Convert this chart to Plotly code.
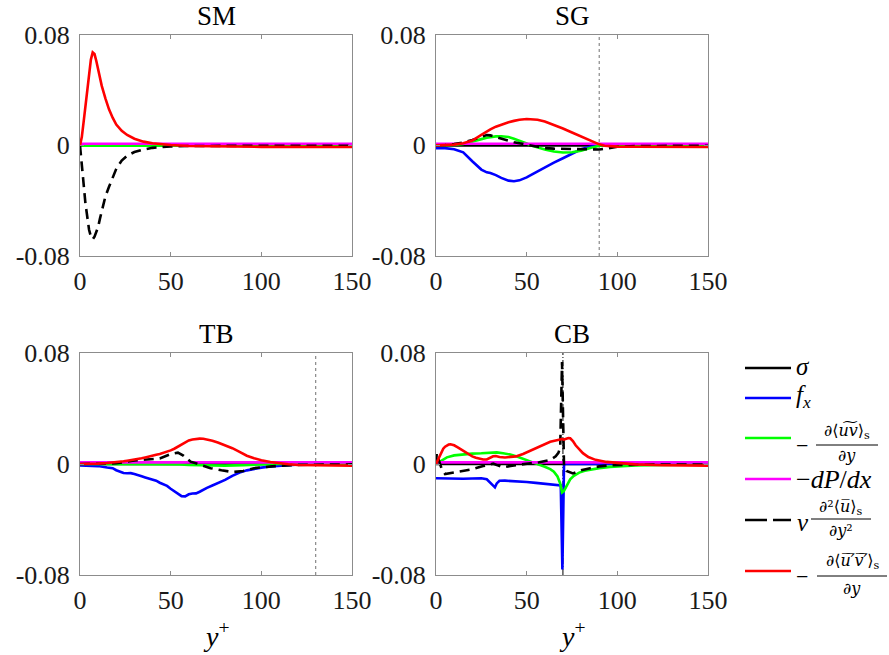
import plotly.graph_objects as go

W, H = 889, 655

# ---------------- data ----------------
panel_titles = ["SM", "SG", "TB", "CB"]
x_ticks = [0, 50, 100, 150]
y_ticks = [-0.08, 0, 0.08]
y_tick_labels = ["-0.08", "0", "0.08"]

dpdx_x = [0, 150]
dpdx_val = [0.0012, 0.0012]
sigma_x = [0, 150]
sigma_val = [0, 0]

# SM
sm_x = [0, 1, 2, 3, 4, 5, 6, 7, 8, 9, 10, 11, 12, 14, 16, 18, 20, 23, 26, 30, 35, 40, 45, 50, 60, 80, 100, 150]
sm_red = [0, 0.006, 0.017, 0.029, 0.041, 0.053, 0.062, 0.0672, 0.066, 0.061, 0.055, 0.049, 0.043, 0.034,
          0.026, 0.020, 0.015, 0.0105, 0.0075, 0.0048, 0.0027, 0.0015, 0.0007, 0.0002, -0.0005, -0.0009,
          -0.0011, -0.0012]
sm_dash = [0, -0.012, -0.028, -0.042, -0.053, -0.061, -0.066, -0.068, -0.066, -0.063, -0.059, -0.053,
           -0.047, -0.037, -0.030, -0.023, -0.017, -0.011, -0.0075, -0.0048, -0.003, -0.0018, -0.0012,
           -0.0008, -0.0005, -0.0003, -0.0003, -0.0003]
sm_fx_x = [0, 150]
sm_fx = [0, 0]
sm_green_x = [0, 150]
sm_green = [-0.0003, -0.0003]

# SG
sg_x = [0, 5, 10, 15, 20, 25, 28, 30, 33, 36, 40, 43, 46, 50, 53, 56, 60, 65, 70, 75, 80, 85, 88, 90,
        93, 96, 100, 110, 125, 150]
sg_red = [0, 0, 0.0005, 0.0015, 0.0035, 0.0075, 0.010, 0.0115, 0.0135, 0.015, 0.0167, 0.0177, 0.0185,
          0.019, 0.019, 0.0185, 0.0172, 0.0148, 0.0122, 0.0093, 0.0065, 0.0035, 0.0017, 0.0007, -0.0003,
          -0.0007, -0.0009, -0.001, -0.0011, -0.0012]
sg_fx = [-0.002, -0.002, -0.0028, -0.005, -0.0115, -0.0175, -0.0195, -0.020, -0.0215, -0.0235, -0.0255,
         -0.026, -0.0253, -0.0232, -0.021, -0.0188, -0.016, -0.0125, -0.0093, -0.0058, -0.0028, -0.001,
         -0.0004, 0, 0, 0, 0, 0, 0, 0]
sg_green = [0, 0, 0.0003, 0.001, 0.0025, 0.0045, 0.0055, 0.006, 0.0065, 0.0066, 0.006, 0.0048, 0.0035,
            0.0013, -0.0003, -0.0015, -0.003, -0.0045, -0.0052, -0.005, -0.0038, -0.002, -0.0009, -0.0003,
            0, 0, 0, 0, 0, 0]
sg_dash = [0, 0.0002, 0.001, 0.002, 0.0038, 0.0062, 0.0075, 0.0072, 0.006, 0.0045, 0.003, 0.0022, 0.0015,
           0.0005, -0.0006, -0.0014, -0.002, -0.0024, -0.0025, -0.0025, -0.0025, -0.0027, -0.003, -0.003,
           -0.0025, -0.0018, -0.001, -0.0005, -0.0004, -0.0003]
sg_ref_x = 90

# TB
tb_x = [0, 5, 10, 15, 18, 20, 22, 24, 26, 28, 30, 32, 34, 36, 38, 40, 42, 44, 46, 48, 50, 52, 54, 56, 58,
        60, 62, 64, 66, 68, 70, 73, 76, 80, 84, 88, 92, 96, 100, 105, 110, 115, 120, 125, 130, 140, 150]
tb_fx = [-0.001, -0.0012, -0.0015, -0.0025, -0.003, -0.0045, -0.0055, -0.0065, -0.0067, -0.0066, -0.0072,
         -0.0078, -0.0089, -0.0097, -0.0105, -0.0112, -0.0120, -0.0135, -0.0145, -0.0158, -0.0178, -0.0195,
         -0.0215, -0.0232, -0.0233, -0.0218, -0.0213, -0.0212, -0.0200, -0.0185, -0.0172, -0.0155, -0.0137,
         -0.0115, -0.0085, -0.0062, -0.0046, -0.0035, -0.0026, -0.0018, -0.0013, -0.0008, -0.0002, 0, 0, 0, 0]
tb_red = [0, 0, 0.0003, 0.0007, 0.001, 0.0013, 0.0016, 0.002, 0.0024, 0.0027, 0.0031, 0.0036, 0.0041,
          0.0047, 0.0055, 0.006, 0.0066, 0.0072, 0.008, 0.0088, 0.0098, 0.011, 0.0124, 0.0142, 0.0158,
          0.017, 0.0177, 0.0181, 0.0183, 0.0182, 0.0178, 0.0168, 0.0155, 0.0137, 0.0114, 0.0087, 0.006,
          0.0042, 0.0027, 0.0014, 0.0005, -0.0002, -0.0007, -0.0009, -0.001, -0.0011, -0.0012]
tb_dash_x = [0, 10, 20, 29, 35, 40, 44, 50, 54, 57, 61, 65, 72, 78, 84, 90, 96, 106, 118, 130, 150]
tb_dash = [0, 0, 0.0005, 0.0024, 0.003, 0.0034, 0.004, 0.0072, 0.0082, 0.006, 0.0017, 0, -0.003, -0.0045,
           -0.0058, -0.005, -0.003, -0.0017, -0.0007, -0.0005, -0.0003]
tb_green_x = [0, 50, 55, 60, 70, 80, 90, 100, 110, 150]
tb_green = [0, 0, -0.0003, -0.0007, -0.001, -0.0012, -0.0008, -0.0004, 0, 0]
tb_ref_x = 130

# CB
cb_fx_x = [0, 3, 6, 10, 15, 20, 25, 28, 30, 31.5, 32.5, 33.5, 35, 38, 42, 46, 50, 55, 60, 64, 67, 68.8,
           69.7, 70.6, 75, 100, 150]
cb_fx = [-0.0103, -0.0104, -0.0105, -0.0106, -0.0106, -0.0104, -0.0103, -0.011, -0.0135, -0.0155, -0.0168,
         -0.014, -0.0121, -0.012, -0.0122, -0.0126, -0.013, -0.0136, -0.0142, -0.0147, -0.015, -0.0155,
         -0.076, 0, 0, 0, 0]
cb_red_x = [0, 1, 2, 3, 4, 5, 6, 7, 8, 9, 10, 12, 14, 16, 18, 20, 22, 24, 26, 28, 30, 31.5, 33, 35, 38, 41,
            44, 48, 52, 56, 60, 63, 66, 68, 69.5, 70.5, 72, 73, 74, 75.5, 77, 79, 81, 84, 88, 94, 100, 110,
            125, 150]
cb_red = [0, 0.003, 0.006, 0.009, 0.011, 0.0125, 0.0135, 0.014, 0.0142, 0.014, 0.0135, 0.012, 0.0103,
          0.0085, 0.007, 0.0055, 0.0045, 0.0037, 0.0032, 0.0033, 0.0045, 0.0056, 0.0058, 0.005, 0.0047,
          0.0049, 0.0055, 0.0072, 0.0095, 0.012, 0.0145, 0.016, 0.017, 0.0175, 0.018, 0.0176, 0.0183,
          0.0187, 0.0185, 0.0165, 0.0135, 0.0105, 0.0078, 0.005, 0.003, 0.0015, 0.0007, -0.0003, -0.0009,
          -0.0012]
cb_green_x = [0, 3, 6, 10, 15, 20, 25, 30, 33.5, 37, 41, 45, 50, 54, 57.4, 60, 63, 65, 67, 68.5, 69.5,
              70.5, 72, 74, 76, 79, 82, 86, 90, 96, 102, 110, 125, 150]
cb_green = [0, 0.0025, 0.0048, 0.0062, 0.007, 0.0075, 0.0077, 0.0081, 0.0084, 0.0077, 0.0068, 0.0052,
            0.003, 0.0008, -0.0008, -0.002, -0.0037, -0.0055, -0.009, -0.014, -0.0205, -0.0195, -0.0155,
            -0.011, -0.0085, -0.0062, -0.0048, -0.0038, -0.003, -0.0021, -0.0015, -0.001, -0.0006, -0.0004]
cb_dash_x = [0, 0.4, 1.5, 3, 5, 8, 13, 19, 26, 31.6, 34, 37, 42, 47, 52, 57, 60, 63, 66, 67.5, 68.5, 69.5,
             70.6, 72, 75.5, 80, 85, 90, 97, 105, 120, 150]
cb_dash = [0, 0.0077, 0.003, -0.003, -0.0072, -0.0065, -0.0055, -0.004, -0.0015, 0.0002, -0.001, -0.0024,
           -0.0012, -0.0002, 0.0005, 0.0012, 0.002, 0.003, 0.0055, 0.008, 0.012, 0.0735, -0.002, -0.005,
           -0.0068, -0.0045, -0.003, -0.0017, -0.0008, -0.0005, -0.0004, -0.0003]
cb_ref_x = 70

# ---------------- style ----------------
C_SIGMA = "#000000"
C_FX = "#0000ff"
C_GREEN = "#00ff00"
C_DPDX = "#ff00ff"
C_DASH = "#000000"
C_RED = "#ff0000"
LW = 2.6
DASH = "10px,6px"
FONT = "Liberation Serif"
MF = "DejaVu Serif"
FRAME = "#8c8c8c"

fig = go.Figure()

def px2x(px):
    return px / W

def py2y(py):
    return 1 - py / H

# axes domains (pixel based)
cols = [(80, 352), (436, 708)]
rows = [(34.7, 256), (353, 575)]

panels = [
    dict(name=panel_titles[0], col=0, row=0,
         fx=(sm_fx_x, sm_fx), green=(sm_green_x, sm_green), dash=(sm_x, sm_dash), red=(sm_x, sm_red),
         ref=None),
    dict(name=panel_titles[1], col=1, row=0,
         fx=(sg_x, sg_fx), green=(sg_x, sg_green), dash=(sg_x, sg_dash), red=(sg_x, sg_red),
         ref=(sg_ref_x, "#707070", "3px,3px")),
    dict(name=panel_titles[2], col=0, row=1,
         fx=(tb_x, tb_fx), green=(tb_green_x, tb_green), dash=(tb_dash_x, tb_dash), red=(tb_x, tb_red),
         ref=(tb_ref_x, "#707070", "3px,3px")),
    dict(name=panel_titles[3], col=1, row=1,
         fx=(cb_fx_x, cb_fx), green=(cb_green_x, cb_green), dash=(cb_dash_x, cb_dash),
         red=(cb_red_x, cb_red), ref=(cb_ref_x, "#000000", "6px,2px,1px,2px")),
]

layout = dict(
    width=W, height=H, margin=dict(l=0, r=0, t=0, b=0, pad=0),
    paper_bgcolor="white", plot_bgcolor="white", showlegend=False,
    font=dict(family=FONT, size=26, color="#262626"),
)

annotations = []
shapes = []

for i, p in enumerate(panels):
    k = "" if i == 0 else str(i + 1)
    xa, ya = "x" + k, "y" + k
    x0, x1 = cols[p["col"]]
    ytop, ybot = rows[p["row"]]
    ax_common = dict(showline=True, mirror="allticks", linecolor=FRAME, linewidth=1,
                     ticks="inside", ticklen=4, tickcolor=FRAME, showgrid=False, zeroline=False,
                     automargin=False,
                     tickfont=dict(family=FONT, size=26, color="#1a1a1a"))
    layout["xaxis" + k] = dict(domain=[px2x(x0), px2x(x1)], range=[0, 150], anchor=ya,
                              tickvals=x_ticks, ticktext=[str(v) for v in x_ticks],
                              ticklabelstandoff=2, **ax_common)
    layout["yaxis" + k] = dict(domain=[py2y(ybot), py2y(ytop)], range=[-0.08, 0.08], anchor=xa,
                              tickvals=y_ticks, ticktext=y_tick_labels, ticklabelstandoff=4, **ax_common)
    if p["ref"] is not None:
        rx, rc, rd = p["ref"]
        fig.add_trace(go.Scatter(x=[rx, rx], y=[-0.08, 0.08], mode="lines", xaxis=xa, yaxis=ya,
                                 line=dict(color=rc, width=1, dash=rd), hoverinfo="skip"))
    fig.add_trace(go.Scatter(x=sigma_x, y=sigma_val, mode="lines", xaxis=xa, yaxis=ya,
                             line=dict(color=C_SIGMA, width=LW)))
    fig.add_trace(go.Scatter(x=p["fx"][0], y=p["fx"][1], mode="lines", xaxis=xa, yaxis=ya,
                             line=dict(color=C_FX, width=LW)))
    fig.add_trace(go.Scatter(x=p["green"][0], y=p["green"][1], mode="lines", xaxis=xa, yaxis=ya,
                             line=dict(color=C_GREEN, width=LW)))
    fig.add_trace(go.Scatter(x=dpdx_x, y=dpdx_val, mode="lines", xaxis=xa, yaxis=ya,
                             line=dict(color=C_DPDX, width=LW)))
    fig.add_trace(go.Scatter(x=p["dash"][0], y=p["dash"][1], mode="lines", xaxis=xa, yaxis=ya,
                             line=dict(color=C_DASH, width=LW, dash=DASH)))
    fig.add_trace(go.Scatter(x=p["red"][0], y=p["red"][1], mode="lines", xaxis=xa, yaxis=ya,
                             line=dict(color=C_RED, width=LW)))
    # panel title
    annotations.append(dict(text=p["name"], x=px2x((x0 + x1) / 2), y=py2y(ytop - 19), xref="paper",
                            yref="paper", xanchor="center", yanchor="middle", showarrow=False,
                            font=dict(family=FONT, size=27, color="#000000")))
    if p["row"] == 1:
        annotations.append(dict(text="<i>y</i><sup>+</sup>", x=px2x((x0 + x1) / 2), y=py2y(634),
                                xref="paper", yref="paper", xanchor="center", yanchor="middle",
                                showarrow=False, font=dict(family=FONT, size=28, color="#000000")))

# ---------------- legend (drawn manually) ----------------
leg_x0, leg_x1 = 745, 791
leg_items = [
    (368, C_SIGMA, "solid"),
    (398, C_FX, "solid"),
    (438, C_GREEN, "solid"),
    (479, C_DPDX, "solid"),
    (520, C_DASH, "22px,6px"),
    (571, C_RED, "solid"),
]
for ly, lc, ld in leg_items:
    shapes.append(dict(type="line", xref="paper", yref="paper", x0=px2x(leg_x0), x1=px2x(leg_x1),
                       y0=py2y(ly), y1=py2y(ly), line=dict(color=lc, width=LW, dash=ld)))

def ann(text, x, y, size, anchor="left", family=FONT):
    annotations.append(dict(text=text, x=px2x(x), y=py2y(y), xref="paper", yref="paper",
                            xanchor=anchor, yanchor="middle", showarrow=False,
                            font=dict(family=family, size=size, color="#000000")))

def bar(xa, xb, y):
    shapes.append(dict(type="line", xref="paper", yref="paper", x0=px2x(xa), x1=px2x(xb),
                       y0=py2y(y), y1=py2y(y), line=dict(color="#000000", width=1)))

ann("<i>σ</i>", 794, 366, 25)
ann("<i>f</i><sub><i>x</i></sub>", 794, 396, 25)
# green
ann("−", 794, 445, 22)
ann("∂⟨<i>u͠v</i>⟩<sub>s</sub>", 847, 431, 16, "center", MF)
bar(816, 878, 445)
ann("∂<i>y</i>", 847, 455, 16, "center", MF)
# dP/dx
ann("−<i>dP</i>/<i>dx</i>", 794, 479, 26)
# viscous
ann("<i>ν</i>", 795, 522, 25)
ann("∂²⟨<i>u̅</i>⟩<sub>s</sub>", 841, 507, 16, "center", MF)
bar(811, 871, 519)
ann("∂<i>y</i>²", 841, 530, 16, "center", MF)
# Reynolds
ann("−", 794, 576, 22)
ann("∂⟨<i>u̅′̅v̅′̅</i>⟩<sub>s</sub>", 852, 561, 16, "center", MF)
bar(817, 887, 576)
ann("∂<i>y</i>", 852, 588, 16, "center", MF)

layout["annotations"] = annotations
layout["shapes"] = shapes
fig.update_layout(**layout)

fig.write_html("out.html")
